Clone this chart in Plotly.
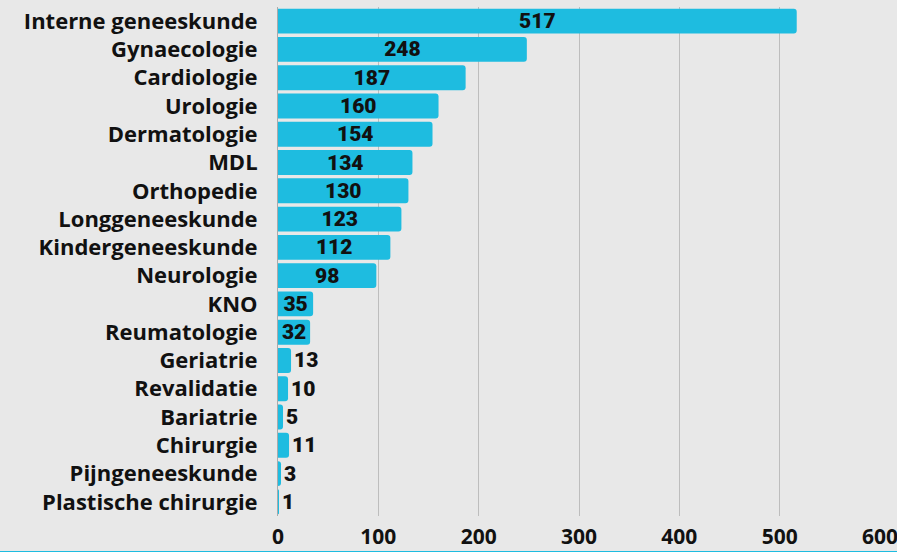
import plotly.graph_objects as go

categories = ["Interne geneeskunde", "Gynaecologie", "Cardiologie", "Urologie", "Dermatologie",
              "MDL", "Orthopedie", "Longgeneeskunde", "Kindergeneeskunde", "Neurologie", "KNO",
              "Reumatologie", "Geriatrie", "Revalidatie", "Bariatrie", "Chirurgie",
              "Pijngeneeskunde", "Plastische chirurgie"]
values = [517, 248, 187, 160, 154, 134, 130, 123, 112, 98, 35, 32, 13, 10, 5, 11, 3, 1]
x_ticks = [0, 100, 200, 300, 400, 500, 600]

BG = "#e8e8e8"
BAR = "#1ebce0"

positions = ["inside" if v >= 30 else "outside" for v in values]

fig = go.Figure(go.Bar(
    x=values, y=categories, orientation="h",
    marker=dict(color=BAR, line=dict(width=0)),
    text=[str(v) for v in values],
    textposition=positions,
    textangle=0,
    insidetextanchor="middle",
    textfont=dict(family="Roboto", size=21, color="#111111", weight=900),
    constraintext="none",
    cliponaxis=False,
    hoverinfo="skip",
))

fig.update_layout(
    width=897, height=552,
    margin=dict(l=278, r=17, t=7, b=36, autoexpand=False),
    paper_bgcolor=BG, plot_bgcolor=BG,
    bargap=0.12,
    barcornerradius=3,
    showlegend=False,
    uniformtext=dict(mode="show", minsize=21),
    xaxis=dict(
        range=[0, 600], tickvals=x_ticks, ticktext=[str(t) for t in x_ticks],
        showgrid=True, gridcolor="#bdbdbd", gridwidth=1,
        zeroline=False, showline=False, ticks="",
        tickfont=dict(family="Open Sans", size=21, color="#111111", weight="bold"),
        ticklabelstandoff=6, ticklabeloverflow="allow", automargin=False,
    ),
    yaxis=dict(
        autorange="reversed", showgrid=False, zeroline=False,
        showline=True, linecolor="#aaaaaa", linewidth=1, ticks="",
        tickfont=dict(family="Open Sans", size=22, color="#111111", weight="bold"),
        ticklabelstandoff=15, automargin=False,
    ),
    shapes=[dict(type="line", xref="paper", yref="paper", x0=-0.5, x1=1.1,
                 y0=-0.0705, y1=-0.0705, line=dict(color=BAR, width=2))],
)

fig.write_html("out.html", config={"displayModeBar": False},
               post_script="document.body.style.margin='0';document.body.style.overflow='hidden';")
